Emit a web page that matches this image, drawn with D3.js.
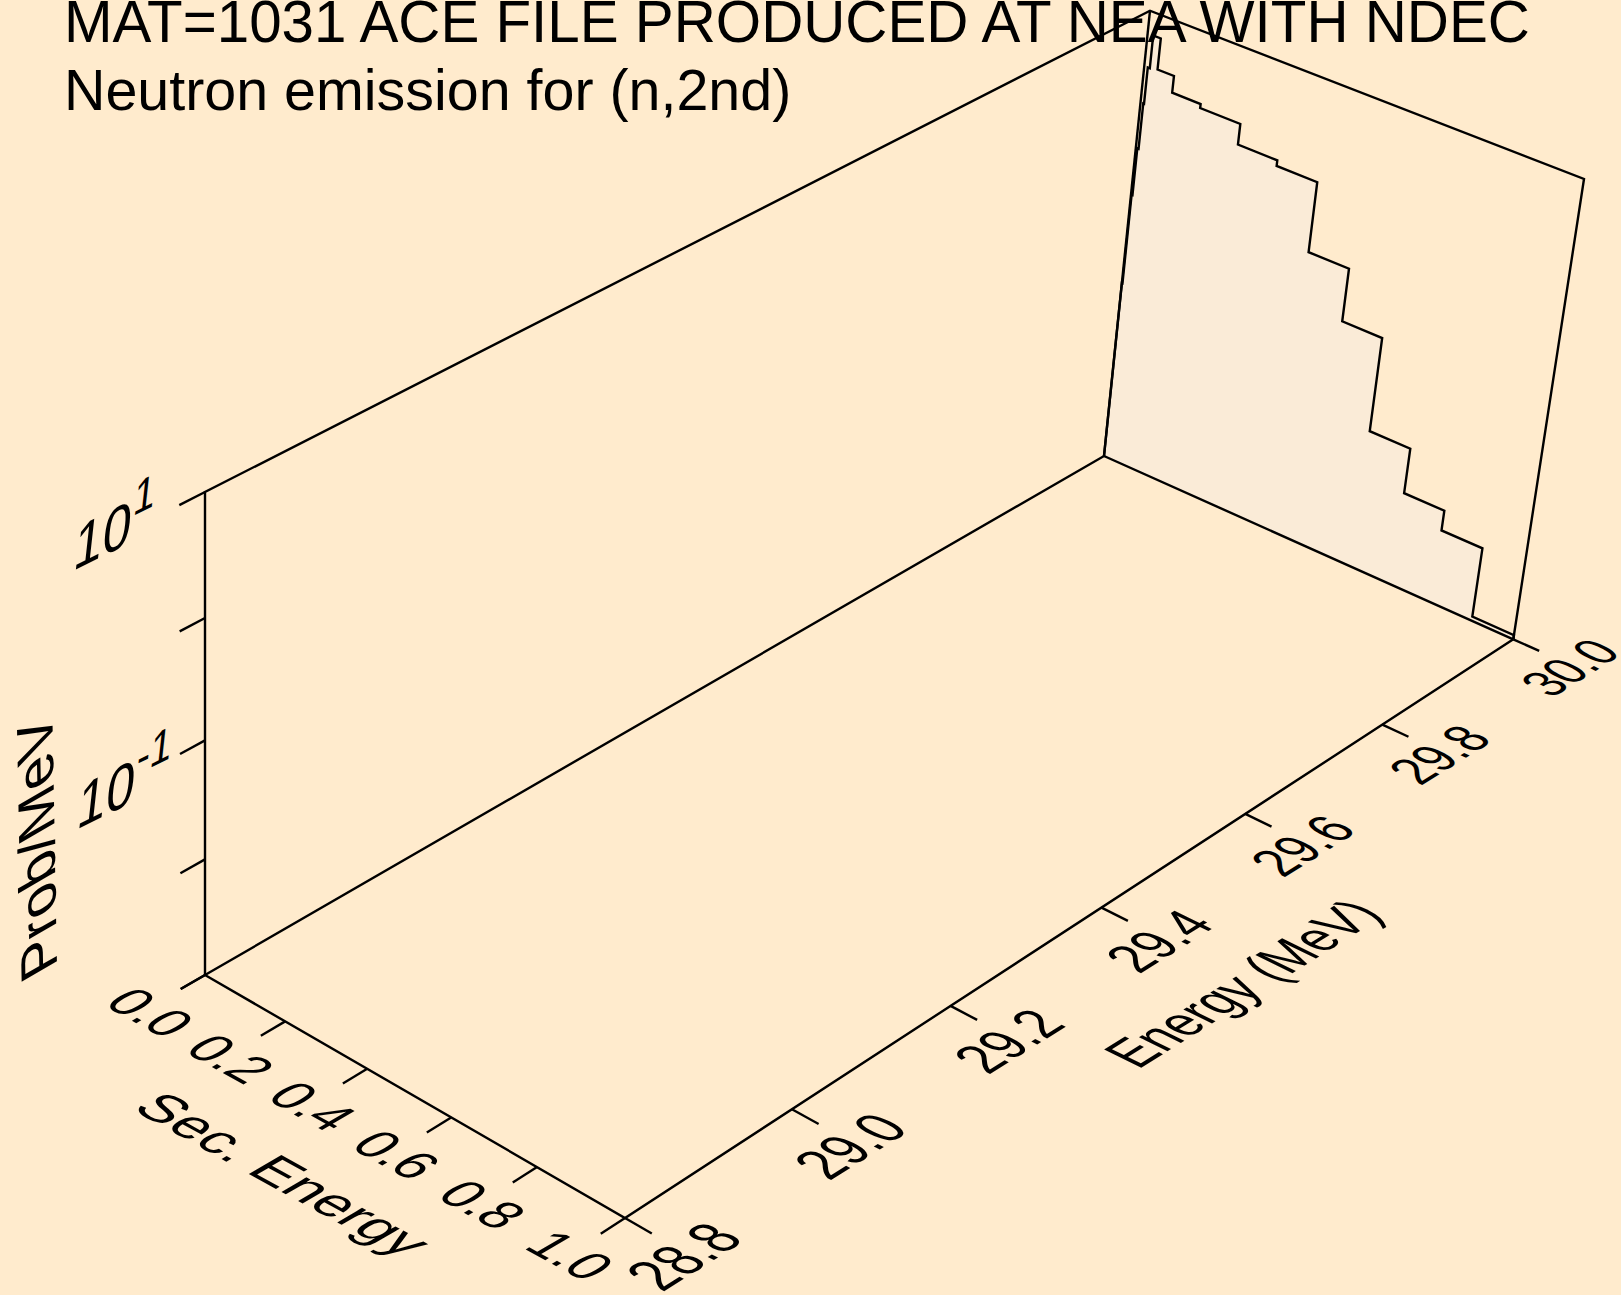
<!DOCTYPE html>
<html><head><meta charset="utf-8">
<script src="https://cdn.jsdelivr.net/npm/d3@7"></script>
<style>html,body{margin:0;padding:0;background:#ffebcd}svg{display:block}text{font-family:"Liberation Sans",Arial,sans-serif;fill:#000}</style>
</head><body><svg id="c" width="1621" height="1295"></svg>
<script>
const titleLines=["MAT=1031 ACE FILE PRODUCED AT NEA WITH NDEC","Neutron emission for (n,2nd)"];
const secTicks=[0,0.2,0.4,0.6,0.8,1.0];
const energyTicks=[28.8,29.0,29.2,29.4,29.6,29.8,30.0];
const probTicks=[10,1,0.1,0.01,0.001];
const probLabels=[[10,"10","1"],[0.1,"10","-1"]];
const binEdges=[0,0.0015,0.0036,0.0067,0.0086,0.0135,0.032,0.072,0.141,0.2376,0.3316,0.4277,0.5232,0.6173,0.713,0.8075,0.903,1.0];
const binProb=[0.04,0.25,0.648,1.62,3.34,6.4,3.46,2.48,2.29,1.52,1.36,0.3365,0.1164,0.0173,0.00687,0.00456,0.00109];

const W=1621,H=1295,svg=d3.select("#c");
const BG="#ffebcd",FILL="#faebd7";
const sec=d3.scaleLinear().domain([0,1]).range([0,1]);
const en=d3.scaleLinear().domain([28.8,30]).range([0,1]);
const pr=d3.scaleLog().domain([1e-3,10]).range([0,1]);

// frame corners of the projected box
const A=[205,975],B=[625,1218],C=[1513.3,639.3],D=[1104,456],At=[205,492],Dt=[1150,10.7],Ct=[1584,179];
function quad(p0,p1,p2,p3){
  const dx1=p1[0]-p2[0],dx2=p3[0]-p2[0],sx=p0[0]-p1[0]+p2[0]-p3[0];
  const dy1=p1[1]-p2[1],dy2=p3[1]-p2[1],sy=p0[1]-p1[1]+p2[1]-p3[1];
  const det=dx1*dy2-dx2*dy1,g=(sx*dy2-dx2*sy)/det,h=(dx1*sy-sx*dy1)/det;
  const a=p1[0]-p0[0]+g*p1[0],b=p3[0]-p0[0]+h*p3[0],d=p1[1]-p0[1]+g*p1[1],e=p3[1]-p0[1]+h*p3[1];
  return (u,v)=>{const w=g*u+h*v+1;return[(a*u+b*v+p0[0])/w,(d*u+e*v+p0[1])/w];};
}
const floorP=quad(A,B,C,D), backP=quad(D,C,Ct,Dt), leftP=quad(A,D,Dt,At);

const SW=2.4;
const line=d3.line();
function stroke(pts,fill){svg.append("path").attr("d",line(pts)+(fill?"Z":"")).attr("fill",fill||"none").attr("stroke",fill?"none":"#000").attr("stroke-width",SW).attr("stroke-linejoin","miter");}

svg.append("rect").attr("width",W).attr("height",H).attr("fill",BG);

// spectrum on the back plane
const spec=[backP(sec(binEdges[0]),pr(1e-3))];
binProb.forEach((p,i)=>{spec.push(backP(sec(binEdges[i]),pr(p)));spec.push(backP(sec(binEdges[i+1]),pr(p)));});
spec.push(backP(sec(1),pr(1e-3)));
stroke(spec,FILL);
stroke(spec);

// frame
stroke([A,At,Dt,Ct,C]);
stroke([Dt,D]);
stroke([A,D,C]);
stroke([A,B,C]);

// ticks
const TE=0.0235,TS=0.06;
secTicks.forEach(s=>stroke([floorP(sec(s),0),floorP(sec(s),-TE)]));
energyTicks.forEach(e=>stroke([floorP(1,en(e)),floorP(1+TS,en(e))]));
probTicks.forEach(p=>stroke([leftP(0,pr(p)),leftP(-TE,pr(p))]));

function txt(str,x,y,size,b,u,anchor,dy){
  return svg.append("text").attr("transform",`matrix(${b[0]},${b[1]},${-u[0]},${-u[1]},${x},${y})`)
    .attr("text-anchor",anchor||"middle").attr("font-size",size).attr("dy",dy===undefined?"0.36em":dy).text(str);
}
// titles
titleLines.forEach((t,i)=>svg.append("text").attr("x",64).attr("y",[42,110][i]).attr("font-size",[58.3,57.4][i]).text(t));

// sec labels
const bS=[0.91,0.50],uS=[0.946,-0.55];
secTicks.forEach(s=>{const p=floorP(sec(s),0);txt(d3.format(".1f")(s),p[0]-54,p[1]+37,50,bS,uS);});
txt("Sec. Energy",284,1174,50,[1.0,0.55],uS);
// energy labels
const bE=[0.80,-0.50],uE=[-1.08,-0.53];
energyTicks.forEach(e=>{const t=en(e),p=floorP(1,t);txt(d3.format(".1f")(e),p[0]+58-2*t,p[1]+38-10*t,50*(1.08-0.16*t),bE,uE);});
txt("Energy (MeV)",1242,983,50,bE,uE);
// prob labels
const bZ=[0.95,-0.47],uZ=[0.13,-1.19];
probLabels.forEach(([v,m,ex])=>{const p=leftP(0,pr(v));
  const t=txt("",p[0]-(ex==="1"?91:81),p[1]+(ex==="1"?37:44),54,bZ,uZ);
  t.append("tspan").text(m);
  t.append("tspan").attr("font-size",41).attr("dy","-0.55em").text(ex);
});
txt("Prob/MeV",57,966,54,[-0.02,-1.07],[-0.95,0.55],"start",0);
</script></body></html>
